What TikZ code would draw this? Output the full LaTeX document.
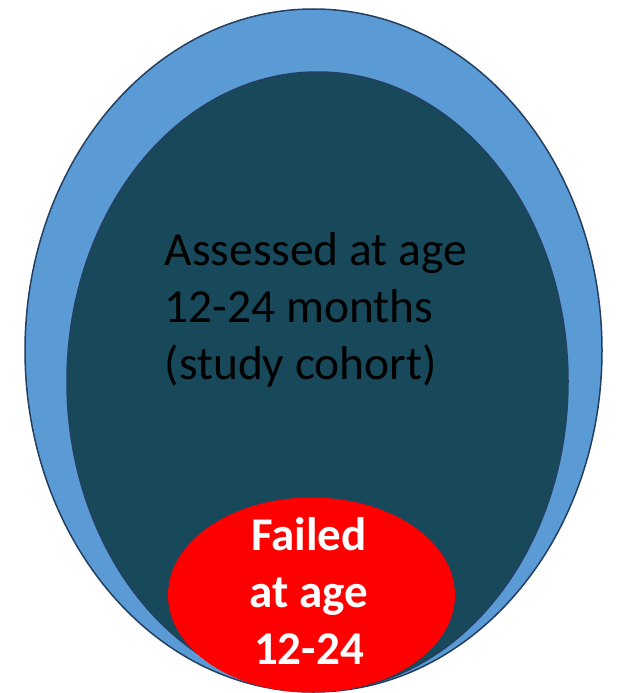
\documentclass[tikz,border=0pt]{standalone}
\usepackage{fontspec}
\setmainfont{Carlito}
\usepackage{tikz}
\definecolor{ringblue}{HTML}{5B9BD5}
\definecolor{cohort}{HTML}{17495B}
\definecolor{rim}{HTML}{243F60}
\definecolor{failred}{HTML}{FF0000}

\begin{document}
\begin{tikzpicture}[x = 1pt, y = -1pt, line width = 1.5pt,
  label text/.style = {inner sep = 0pt, font = \fontsize{47.5}{57}\selectfont}]
\useasboundingbox (0, 0) rectangle (616, 693);
\begin{scope}
\clip (0, 0) rectangle (616, 693);
\filldraw[fill = ringblue, draw = rim] (313.5, 350.5) ellipse [x radius = 288.5pt, y radius = 341.5pt];
\filldraw[fill = cohort, draw = rim] (317.5, 381.5) ellipse [x radius = 250.5pt, y radius = 309.5pt];
\fill[failred] (311.5, 595) ellipse [x radius = 143.5pt, y radius = 97.5pt];
\end{scope}
\node[label text, anchor = north west, align = left, text = black] (cohorttext) at (164, 232) {Assessed at age\\12-24 months\\(study cohort)};
\node[label text, anchor = north, align = center, text = white, font = \fontsize{47}{57}\selectfont\bfseries] (failtext) at (309, 517) {Failed\\at age\\12-24};
\end{tikzpicture}
\end{document}
